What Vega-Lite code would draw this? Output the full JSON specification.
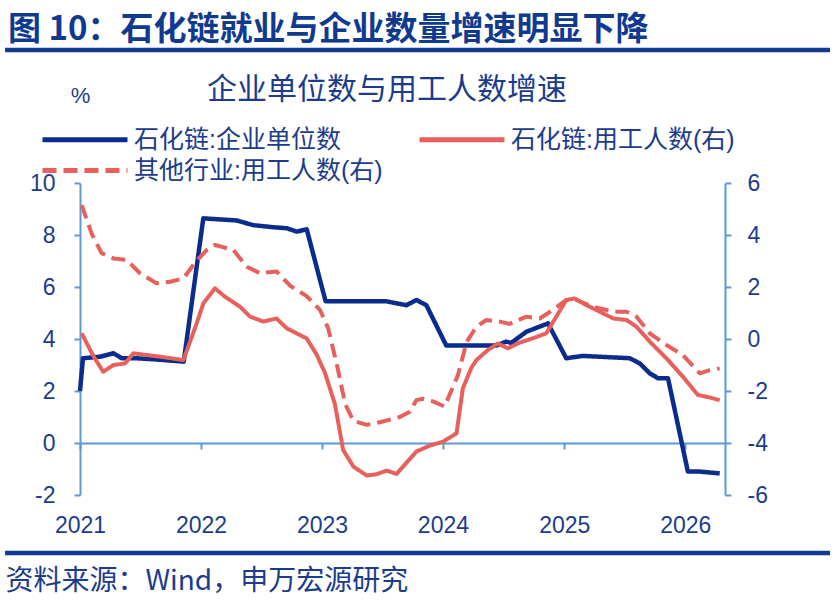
{
  "$schema": "https://vega.github.io/schema/vega-lite/v6.json",
  "width": 645,
  "height": 312,
  "autosize": {"type": "none"},
  "padding": {"left": 80, "top": 183, "right": 112, "bottom": 111},
  "background": "white",
  "title": {
    "text": "图 10：石化链就业与企业数量增速明显下降",
    "anchor": "start",
    "frame": "group",
    "dx": -72,
    "offset": 1,
    "font": "Noto Sans CJK SC",
    "fontSize": 33,
    "fontWeight": "bold",
    "color": "#0f3a8f"
  },
  "data": {
    "values": [
      {"series": "石化链:企业单位数", "date": "2021-01-01", "value": 2.0},
      {"series": "石化链:企业单位数", "date": "2021-01-10", "value": 3.26},
      {"series": "石化链:企业单位数", "date": "2021-03-03", "value": 3.32},
      {"series": "石化链:企业单位数", "date": "2021-04-12", "value": 3.45},
      {"series": "石化链:企业单位数", "date": "2021-05-07", "value": 3.26},
      {"series": "石化链:企业单位数", "date": "2021-06-22", "value": 3.26},
      {"series": "石化链:企业单位数", "date": "2021-09-01", "value": 3.2},
      {"series": "石化链:企业单位数", "date": "2021-11-10", "value": 3.13},
      {"series": "石化链:企业单位数", "date": "2022-01-08", "value": 8.64},
      {"series": "石化链:企业单位数", "date": "2022-04-19", "value": 8.56},
      {"series": "石化链:企业单位数", "date": "2022-06-07", "value": 8.38},
      {"series": "石化链:企业单位数", "date": "2022-08-06", "value": 8.3},
      {"series": "石化链:企业单位数", "date": "2022-09-17", "value": 8.26},
      {"series": "石化链:企业单位数", "date": "2022-10-17", "value": 8.13},
      {"series": "石化链:企业单位数", "date": "2022-11-16", "value": 8.22},
      {"series": "石化链:企业单位数", "date": "2023-01-12", "value": 5.45},
      {"series": "石化链:企业单位数", "date": "2023-07-14", "value": 5.45},
      {"series": "石化链:企业单位数", "date": "2023-09-13", "value": 5.3},
      {"series": "石化链:企业单位数", "date": "2023-10-13", "value": 5.5},
      {"series": "石化链:企业单位数", "date": "2023-11-12", "value": 5.3},
      {"series": "石化链:企业单位数", "date": "2024-01-11", "value": 3.75},
      {"series": "石化链:企业单位数", "date": "2024-06-10", "value": 3.75},
      {"series": "石化链:企业单位数", "date": "2024-07-10", "value": 3.9},
      {"series": "石化链:企业单位数", "date": "2024-07-25", "value": 3.85},
      {"series": "石化链:企业单位数", "date": "2024-09-09", "value": 4.28},
      {"series": "石化链:企业单位数", "date": "2024-11-13", "value": 4.6},
      {"series": "石化链:企业单位数", "date": "2025-01-07", "value": 3.26},
      {"series": "石化链:企业单位数", "date": "2025-02-26", "value": 3.35},
      {"series": "石化链:企业单位数", "date": "2025-07-18", "value": 3.26},
      {"series": "石化链:企业单位数", "date": "2025-08-17", "value": 3.06},
      {"series": "石化链:企业单位数", "date": "2025-09-16", "value": 2.68},
      {"series": "石化链:企业单位数", "date": "2025-10-11", "value": 2.49},
      {"series": "石化链:企业单位数", "date": "2025-11-10", "value": 2.49},
      {"series": "石化链:企业单位数", "date": "2026-01-09", "value": -1.1},
      {"series": "石化链:企业单位数", "date": "2026-02-14", "value": -1.1},
      {"series": "石化链:企业单位数", "date": "2026-04-15", "value": -1.17},

      {"series": "石化链:用工人数(右)", "date": "2021-01-06", "value": 0.22},
      {"series": "石化链:用工人数(右)", "date": "2021-02-10", "value": -0.65},
      {"series": "石化链:用工人数(右)", "date": "2021-03-12", "value": -1.26},
      {"series": "石化链:用工人数(右)", "date": "2021-04-12", "value": -1.0},
      {"series": "石化链:用工人数(右)", "date": "2021-05-17", "value": -0.94},
      {"series": "石化链:用工人数(右)", "date": "2021-06-11", "value": -0.55},
      {"series": "石化链:用工人数(右)", "date": "2021-08-30", "value": -0.68},
      {"series": "石化链:用工人数(右)", "date": "2021-11-09", "value": -0.81},
      {"series": "石化链:用工人数(右)", "date": "2021-12-19", "value": 0.6},
      {"series": "石化链:用工人数(右)", "date": "2022-01-08", "value": 1.37},
      {"series": "石化链:用工人数(右)", "date": "2022-02-12", "value": 1.95},
      {"series": "石化链:用工人数(右)", "date": "2022-03-14", "value": 1.63},
      {"series": "石化链:用工人数(右)", "date": "2022-04-29", "value": 1.24},
      {"series": "石化链:用工人数(右)", "date": "2022-05-29", "value": 0.86},
      {"series": "石化链:用工人数(右)", "date": "2022-07-08", "value": 0.67},
      {"series": "石化链:用工人数(右)", "date": "2022-08-17", "value": 0.79},
      {"series": "石化链:用工人数(右)", "date": "2022-09-17", "value": 0.41},
      {"series": "石化链:用工人数(右)", "date": "2022-10-27", "value": 0.15},
      {"series": "石化链:用工人数(右)", "date": "2022-11-16", "value": 0.02},
      {"series": "石化链:用工人数(右)", "date": "2022-12-16", "value": -0.6},
      {"series": "石化链:用工人数(右)", "date": "2023-01-10", "value": -1.3},
      {"series": "石化链:用工人数(右)", "date": "2023-02-09", "value": -2.5},
      {"series": "石化链:用工人数(右)", "date": "2023-03-06", "value": -4.27},
      {"series": "石化链:用工人数(右)", "date": "2023-04-06", "value": -4.91},
      {"series": "石化链:用工人数(右)", "date": "2023-05-16", "value": -5.25},
      {"series": "石化链:用工人数(右)", "date": "2023-06-15", "value": -5.2},
      {"series": "石化链:用工人数(右)", "date": "2023-07-15", "value": -5.06},
      {"series": "石化链:用工人数(右)", "date": "2023-08-14", "value": -5.19},
      {"series": "石化链:用工人数(右)", "date": "2023-10-13", "value": -4.33},
      {"series": "石化链:用工人数(右)", "date": "2023-11-22", "value": -4.1},
      {"series": "石化链:用工人数(右)", "date": "2024-01-01", "value": -3.95},
      {"series": "石化链:用工人数(右)", "date": "2024-02-11", "value": -3.63},
      {"series": "石化链:用工人数(右)", "date": "2024-03-01", "value": -1.9},
      {"series": "石化链:用工人数(右)", "date": "2024-03-27", "value": -1.1},
      {"series": "石化链:用工人数(右)", "date": "2024-04-11", "value": -0.81},
      {"series": "石化链:用工人数(右)", "date": "2024-05-16", "value": -0.42},
      {"series": "石化链:用工人数(右)", "date": "2024-06-15", "value": -0.17},
      {"series": "石化链:用工人数(右)", "date": "2024-07-15", "value": -0.36},
      {"series": "石化链:用工人数(右)", "date": "2024-08-19", "value": -0.14},
      {"series": "石化链:用工人数(右)", "date": "2024-09-29", "value": 0.03},
      {"series": "石化链:用工人数(右)", "date": "2024-11-08", "value": 0.22},
      {"series": "石化链:用工人数(右)", "date": "2024-12-08", "value": 0.86},
      {"series": "石化链:用工人数(右)", "date": "2025-01-07", "value": 1.5},
      {"series": "石化链:用工人数(右)", "date": "2025-02-01", "value": 1.56},
      {"series": "石化链:用工人数(右)", "date": "2025-03-09", "value": 1.3},
      {"series": "石化链:用工人数(右)", "date": "2025-04-18", "value": 1.05},
      {"series": "石化链:用工人数(右)", "date": "2025-05-29", "value": 0.79},
      {"series": "石化链:用工人数(右)", "date": "2025-07-08", "value": 0.73},
      {"series": "石化链:用工人数(右)", "date": "2025-08-07", "value": 0.47},
      {"series": "石化链:用工人数(右)", "date": "2025-09-16", "value": -0.1},
      {"series": "石化链:用工人数(右)", "date": "2025-11-05", "value": -0.74},
      {"series": "石化链:用工人数(右)", "date": "2025-12-25", "value": -1.45},
      {"series": "石化链:用工人数(右)", "date": "2026-02-08", "value": -2.15},
      {"series": "石化链:用工人数(右)", "date": "2026-03-16", "value": -2.25},
      {"series": "石化链:用工人数(右)", "date": "2026-04-15", "value": -2.35},

      {"series": "其他行业:用工人数(右)", "date": "2021-01-06", "value": 5.15},
      {"series": "其他行业:用工人数(右)", "date": "2021-02-05", "value": 4.06},
      {"series": "其他行业:用工人数(右)", "date": "2021-03-07", "value": 3.3},
      {"series": "其他行业:用工人数(右)", "date": "2021-04-12", "value": 3.1},
      {"series": "其他行业:用工人数(右)", "date": "2021-05-22", "value": 3.04},
      {"series": "其他行业:用工人数(右)", "date": "2021-07-01", "value": 2.53},
      {"series": "其他行业:用工人数(右)", "date": "2021-08-20", "value": 2.14},
      {"series": "其他行业:用工人数(右)", "date": "2021-09-30", "value": 2.2},
      {"series": "其他行业:用工人数(右)", "date": "2021-11-09", "value": 2.33},
      {"series": "其他行业:用工人数(右)", "date": "2021-12-15", "value": 2.95},
      {"series": "其他行业:用工人数(右)", "date": "2022-01-18", "value": 3.42},
      {"series": "其他行业:用工人数(右)", "date": "2022-02-12", "value": 3.62},
      {"series": "其他行业:用工人数(右)", "date": "2022-04-09", "value": 3.42},
      {"series": "其他行业:用工人数(右)", "date": "2022-05-19", "value": 2.78},
      {"series": "其他行业:用工人数(右)", "date": "2022-06-28", "value": 2.53},
      {"series": "其他行业:用工人数(右)", "date": "2022-08-17", "value": 2.6},
      {"series": "其他行业:用工人数(右)", "date": "2022-09-27", "value": 2.05},
      {"series": "其他行业:用工人数(右)", "date": "2022-11-16", "value": 1.65},
      {"series": "其他行业:用工人数(右)", "date": "2022-12-26", "value": 1.12},
      {"series": "其他行业:用工人数(右)", "date": "2023-01-20", "value": 0.4},
      {"series": "其他行业:用工人数(右)", "date": "2023-02-17", "value": -1.1},
      {"series": "其他行业:用工人数(右)", "date": "2023-03-12", "value": -2.5},
      {"series": "其他行业:用工人数(右)", "date": "2023-04-06", "value": -3.15},
      {"series": "其他行业:用工人数(右)", "date": "2023-05-16", "value": -3.3},
      {"series": "其他行业:用工人数(右)", "date": "2023-06-25", "value": -3.2},
      {"series": "其他行业:用工人数(右)", "date": "2023-07-25", "value": -3.1},
      {"series": "其他行业:用工人数(右)", "date": "2023-08-24", "value": -3.0},
      {"series": "其他行业:用工人数(右)", "date": "2023-09-23", "value": -2.8},
      {"series": "其他行业:用工人数(右)", "date": "2023-10-13", "value": -2.35},
      {"series": "其他行业:用工人数(右)", "date": "2023-11-02", "value": -2.3},
      {"series": "其他行业:用工人数(右)", "date": "2023-12-02", "value": -2.4},
      {"series": "其他行业:用工人数(右)", "date": "2024-01-06", "value": -2.6},
      {"series": "其他行业:用工人数(右)", "date": "2024-02-15", "value": -1.4},
      {"series": "其他行业:用工人数(右)", "date": "2024-03-13", "value": -0.1},
      {"series": "其他行业:用工人数(右)", "date": "2024-04-11", "value": 0.47},
      {"series": "其他行业:用工人数(右)", "date": "2024-05-11", "value": 0.73},
      {"series": "其他行业:用工人数(右)", "date": "2024-06-20", "value": 0.67},
      {"series": "其他行业:用工人数(右)", "date": "2024-07-20", "value": 0.58},
      {"series": "其他行业:用工人数(右)", "date": "2024-09-09", "value": 0.86},
      {"series": "其他行业:用工人数(右)", "date": "2024-10-19", "value": 0.79},
      {"series": "其他行业:用工人数(右)", "date": "2024-11-28", "value": 1.12},
      {"series": "其他行业:用工人数(右)", "date": "2025-01-07", "value": 1.5},
      {"series": "其他行业:用工人数(右)", "date": "2025-02-06", "value": 1.5},
      {"series": "其他行业:用工人数(右)", "date": "2025-03-29", "value": 1.24},
      {"series": "其他行业:用工人数(右)", "date": "2025-05-29", "value": 1.05},
      {"series": "其他行业:用工人数(右)", "date": "2025-07-08", "value": 1.05},
      {"series": "其他行业:用工人数(右)", "date": "2025-08-07", "value": 0.86},
      {"series": "其他行业:用工人数(右)", "date": "2025-09-16", "value": 0.22},
      {"series": "其他行业:用工人数(右)", "date": "2025-11-05", "value": -0.23},
      {"series": "其他行业:用工人数(右)", "date": "2025-12-25", "value": -0.62},
      {"series": "其他行业:用工人数(右)", "date": "2026-02-14", "value": -1.32},
      {"series": "其他行业:用工人数(右)", "date": "2026-03-16", "value": -1.2},
      {"series": "其他行业:用工人数(右)", "date": "2026-04-15", "value": -1.13}
    ]
  },
  "layer": [
    {
      "transform": [{"filter": "datum.series === '石化链:企业单位数'"}],
      "mark": {"type": "line", "strokeWidth": 4.5, "strokeJoin": "round"},
      "encoding": {
        "x": {
          "field": "date",
          "type": "temporal",
          "scale": {
            "type": "utc",
            "domain": [
              {"year": 2021, "month": 1, "date": 1, "utc": true},
              {"year": 2026, "month": 5, "date": 1, "utc": true}
            ]
          },
          "axis": {
            "title": "资料来源：Wind，申万宏源研究",
            "format": "%Y",
            "tickCount": {"interval": "year", "step": 1},
            "offset": -52,
            "grid": false,
            "domainColor": "#5b9bd5",
            "domainWidth": 2,
            "tickColor": "#5b9bd5",
            "tickWidth": 2,
            "tickSize": 6,
            "labelPadding": 65,
            "labelFont": "Liberation Sans",
            "labelFontSize": 23,
            "labelColor": "#1b3c8c",
            "labelFlush": false,
            "labelOverlap": false,
            "titleFont": "Noto Sans CJK SC",
            "titleFontSize": 28,
            "titleFontWeight": "normal",
            "titleColor": "#1b3c8c",
            "titleAnchor": "start",
            "titleAlign": "left",
            "titleBaseline": "middle",
            "titleX": -75,
            "titleY": 138
          }
        },
        "y": {
          "field": "value",
          "type": "quantitative",
          "scale": {"domain": [-2, 10], "nice": false, "zero": false},
          "axis": {
            "orient": "left",
            "values": [-2, 0, 2, 4, 6, 8, 10],
            "labelExpr": "'' + datum.value",
            "grid": false,
            "title": "%",
            "titleAngle": 0,
            "titleX": 0,
            "titleY": -88,
            "titleAlign": "center",
            "titleBaseline": "middle",
            "titleFont": "Liberation Sans",
            "titleFontSize": 22,
            "titleFontWeight": "normal",
            "titleColor": "#1b3c8c",
            "domainColor": "#5b9bd5",
            "domainWidth": 2,
            "tickColor": "#5b9bd5",
            "tickWidth": 2,
            "tickSize": 6,
            "labelPadding": 19,
            "labelFont": "Liberation Sans",
            "labelFontSize": 23,
            "labelColor": "#1b3c8c"
          }
        },
        "color": {
          "field": "series",
          "type": "nominal",
          "scale": {
            "domain": ["石化链:企业单位数", "其他行业:用工人数(右)", "石化链:用工人数(右)"],
            "range": ["#0a2c8c", "#e8605b", "#e8605b"]
          },
          "legend": {
            "title": "企业单位数与用工人数增速",
            "orient": "none",
            "legendX": -40,
            "legendY": -108,
            "columns": 2,
            "columnPadding": 34,
            "rowPadding": 5,
            "clipHeight": 25,
            "padding": 0,
            "symbolType": "stroke",
            "symbolSize": 7225,
            "symbolStrokeWidth": 5,
            "labelFont": "Liberation Sans, Noto Sans CJK SC",
            "labelFontSize": 25,
            "labelColor": "#1b3c8c",
            "labelOffset": 4,
            "labelLimit": 500,
            "titleFont": "Noto Sans CJK SC",
            "titleFontSize": 30,
            "titleFontWeight": "normal",
            "titleColor": "#1b3c8c",
            "titleAnchor": "middle",
            "titleLimit": 800,
            "titlePadding": 22
          }
        },
        "strokeDash": {
          "field": "series",
          "type": "nominal",
          "scale": {
            "domain": ["石化链:企业单位数", "其他行业:用工人数(右)", "石化链:用工人数(右)"],
            "range": [[1, 0], [14, 7], [1, 0]]
          }
        }
      }
    },
    {
      "transform": [{"filter": "datum.series !== '石化链:企业单位数'"}],
      "mark": {"type": "line", "strokeWidth": 4, "strokeJoin": "round"},
      "encoding": {
        "x": {"field": "date", "type": "temporal"},
        "y": {
          "field": "value",
          "type": "quantitative",
          "scale": {"domain": [-6, 6], "nice": false, "zero": false},
          "axis": {
            "orient": "right",
            "values": [-6, -4, -2, 0, 2, 4, 6],
            "labelExpr": "'' + datum.value",
            "grid": false,
            "title": null,
            "domainColor": "#5b9bd5",
            "domainWidth": 2,
            "tickColor": "#5b9bd5",
            "tickWidth": 2,
            "tickSize": 6,
            "labelPadding": 16,
            "labelFont": "Liberation Sans",
            "labelFontSize": 23,
            "labelColor": "#1b3c8c"
          }
        },
        "color": {"field": "series", "type": "nominal"},
        "strokeDash": {"field": "series", "type": "nominal"}
      }
    },
    {
      "data": {"values": [{}]},
      "mark": {"type": "rule", "color": "#0f3a8f", "strokeWidth": 4.5},
      "encoding": {
        "x": {"datum": {"year": 2020, "month": 5, "date": 20, "utc": true}, "type": "temporal"},
        "x2": {"datum": {"year": 2027, "month": 3, "date": 14, "utc": true}},
        "y": {"datum": 15.12, "type": "quantitative", "scale": {"domain": [-2, 10], "nice": false, "zero": false}, "axis": null}
      }
    },
    {
      "data": {"values": [{}]},
      "mark": {"type": "rule", "color": "#0f3a8f", "strokeWidth": 4.5},
      "encoding": {
        "x": {"datum": {"year": 2020, "month": 5, "date": 20, "utc": true}, "type": "temporal"},
        "x2": {"datum": {"year": 2027, "month": 3, "date": 14, "utc": true}},
        "y": {"datum": -4.23, "type": "quantitative", "scale": {"domain": [-2, 10], "nice": false, "zero": false}, "axis": null}
      }
    }
  ],
  "resolve": {"scale": {"y": "independent"}},
  "config": {
    "view": {"stroke": null},
    "font": "Noto Sans CJK SC"
  }
}
